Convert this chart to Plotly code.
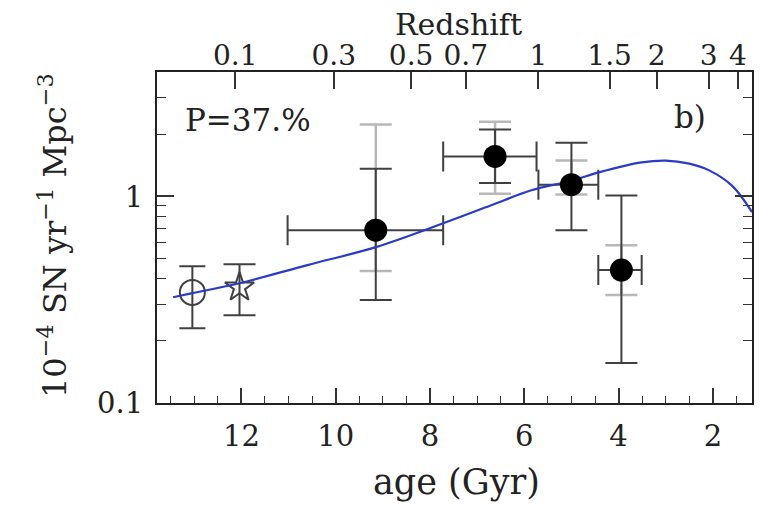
import plotly.graph_objects as go

# ---- data ----
age = [9.15, 6.62, 5.0, 3.94]
rate = [0.686, 1.56, 1.14, 0.44]
age_err_plus = [1.87, 1.10, 0.70, 0.49]   # towards older ages (left)
age_err_minus = [1.43, 0.88, 0.57, 0.43]
stat_hi = [1.36, 2.11, 1.82, 1.01]
stat_lo = [0.315, 1.16, 0.686, 0.156]
sys_hi = [2.23, 2.30, 1.49, 0.58]
sys_lo = [0.435, 1.03, 1.02, 0.333]

local_age = [13.04]
local_rate = [0.343]
local_hi = [0.459]
local_lo = [0.230]

star_age = [12.04]
star_rate = [0.363]
star_hi = [0.469]
star_lo = [0.266]

model_age = [13.45, 13.04, 12.04, 10.6, 9.15, 7.72, 6.7, 5.85, 5.0, 4.4,
             3.51, 3.0, 2.5, 2.09, 1.60, 1.17]
model_rate = [0.325, 0.34, 0.38, 0.465, 0.568, 0.741, 0.906, 1.07, 1.19, 1.31,
              1.46, 1.49, 1.44, 1.34, 1.13, 0.84]

z_ticks = ["0.1", "0.3", "0.5", "0.7", "1", "1.5", "2", "3", "4"]
z_tick_age = [12.13, 10.04, 8.40, 7.24, 5.70, 4.19, 3.19, 2.09, 1.47]

age_ticks = [12, 10, 8, 6, 4, 2]
y_ticks = [0.1, 1]
y_minor = [0.2, 0.3, 0.4, 0.5, 0.6, 0.7, 0.8, 0.9, 2, 3, 4]

XRANGE = [13.79, 1.17]
DARK = "#404040"
LIGHT = "#b8b8b8"
FONT = "DejaVu Serif"

# page offset (body margin) compensation
OFF = 8
L, R, T, B = 157 - OFF, 20 + OFF, 72 - OFF, 107 + OFF
W, H = 772, 510
PW, PH = W - L - R, H - T - B


def px2paper(px, py):
    return (px - OFF - L) / PW, 1 - (py - OFF - T) / PH


def up(v, hi):
    return [h - x for x, h in zip(v, hi)]


def dn(v, lo):
    return [x - l for x, l in zip(v, lo)]


fig = go.Figure()

fig.add_trace(go.Scatter(
    x=age, y=rate, mode="markers", marker=dict(size=1, opacity=0),
    error_y=dict(type="data", symmetric=False, array=up(rate, sys_hi),
                 arrayminus=dn(rate, sys_lo), color=LIGHT, thickness=2.5, width=16),
    showlegend=False, hoverinfo="skip"))

fig.add_trace(go.Scatter(
    x=age, y=rate, mode="markers", marker=dict(size=1, opacity=0),
    error_y=dict(type="data", symmetric=False, array=up(rate, stat_hi),
                 arrayminus=dn(rate, stat_lo), color=DARK, thickness=2, width=16),
    error_x=dict(type="data", symmetric=False, array=age_err_plus,
                 arrayminus=age_err_minus, color=DARK, thickness=2, width=15),
    showlegend=False, hoverinfo="skip"))

fig.add_trace(go.Scatter(
    x=local_age, y=local_rate, mode="markers",
    marker=dict(symbol="circle-open", size=25, color=DARK, line=dict(width=2)),
    error_y=dict(type="data", symmetric=False, array=up(local_rate, local_hi),
                 arrayminus=dn(local_rate, local_lo), color=DARK, thickness=2, width=13),
    showlegend=False))

fig.add_trace(go.Scatter(
    x=star_age, y=star_rate, mode="markers",
    marker=dict(symbol="star-open", size=22, color=DARK, line=dict(width=2)),
    error_y=dict(type="data", symmetric=False, array=up(star_rate, star_hi),
                 arrayminus=dn(star_rate, star_lo), color=DARK, thickness=2, width=16),
    showlegend=False))

fig.add_trace(go.Scatter(
    x=model_age, y=model_rate, mode="lines",
    line=dict(color="#2a3bc4", width=2.2, shape="spline", smoothing=1.0),
    showlegend=False))

fig.add_trace(go.Scatter(
    x=age, y=rate, mode="markers",
    marker=dict(symbol="circle", size=23, color="black"),
    showlegend=False))

fig.add_trace(go.Scatter(x=XRANGE, y=[1, 1], xaxis="x2", mode="markers",
                         marker=dict(opacity=0), showlegend=False, hoverinfo="skip"))


def ann(text, px, py, size, xanchor="center", **kw):
    x, y = px2paper(px, py)
    d = dict(text=text, x=x, y=y, xref="paper", yref="paper", showarrow=False,
             xanchor=xanchor, yanchor="middle",
             font=dict(size=size, family=FONT, color="#222"))
    d.update(kw)
    return d


fig.update_layout(
    width=W, height=H,
    margin=dict(l=L, r=R, t=T, b=B, autoexpand=False),
    paper_bgcolor="white", plot_bgcolor="white",
    font=dict(family=FONT, color="#222222", size=28),
    xaxis=dict(range=XRANGE, showgrid=False, zeroline=False, automargin=False,
               showline=True, linecolor="#222", linewidth=2,
               tickmode="array", tickvals=age_ticks, ticktext=[str(t) for t in age_ticks],
               ticks="inside", ticklen=15, tickwidth=1.5, tickcolor="#333",
               minor=dict(ticks="inside", ticklen=7, tickwidth=1.2, tickcolor="#333",
                          dtick=0.5, tick0=0, showgrid=False),
               tickfont=dict(size=29, family=FONT), ticklabelstandoff=6),
    xaxis2=dict(range=XRANGE, overlaying="x", side="top", showgrid=False, automargin=False,
                zeroline=False, showline=True, linecolor="#222", linewidth=2,
                tickmode="array", tickvals=z_tick_age, ticktext=z_ticks,
                ticks="inside", ticklen=17, tickwidth=1.5, tickcolor="#333",
                tickfont=dict(size=28, family=FONT), ticklabelstandoff=-6),
    yaxis=dict(type="log", range=[-1, 0.602], showgrid=False, zeroline=False, automargin=False,
               showline=True, linecolor="#222", linewidth=2, mirror="ticks",
               tickmode="array", tickvals=y_ticks, ticktext=["0.1", "1"],
               ticks="inside", ticklen=17, tickwidth=1.5, tickcolor="#333",
               minor=dict(ticks="inside", ticklen=9, tickwidth=1.2, tickcolor="#333",
                          tickvals=y_minor, showgrid=False),
               tickfont=dict(size=29, family=FONT), ticklabelstandoff=6),
    annotations=[
        ann("P=37.%", 183, 120, 31, xanchor="left"),
        ann("b)", 690, 117, 31),
        ann("Redshift", 458, 25, 30),
        ann("age (Gyr)", 456, 482, 35),
        ann("10<sup>−4</sup> SN yr<sup>−1</sup> Mpc<sup>−3</sup>", 53, 236, 32,
            textangle=-90),
    ],
)

fig.write_html("out.html")
